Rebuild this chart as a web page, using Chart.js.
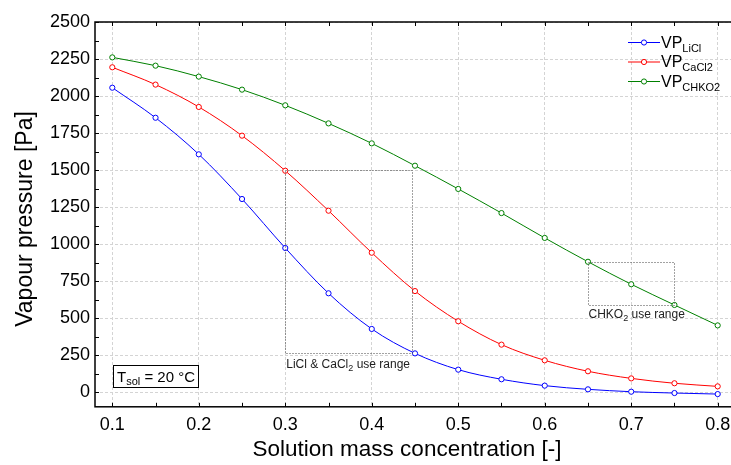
<!DOCTYPE html>
<html><head><meta charset="utf-8">
<script src="https://cdn.jsdelivr.net/npm/chart.js@4/dist/chart.umd.min.js"></script>
<style>
html,body{margin:0;padding:0;overflow:hidden;background:#fff;width:731px;height:465px}
#wrap{width:745px;height:465px}
</style></head>
<body><div id="wrap"><canvas id="c" width="745" height="465"></canvas></div>
<script>
const concentrations = [0.1,0.15,0.2,0.25,0.3,0.35,0.4,0.45,0.5,0.55,0.6,0.65,0.7,0.75,0.8];
const vpLiCl  = [2056,1853,1606,1304,973,667,426,261,151,86,43,18,2,-7,-14];
const vpCaCl2 = [2194,2077,1926,1732,1495,1225,941,682,478,320,214,140,92,59,38];
const vpCHKO2 = [2261,2205,2131,2043,1937,1815,1680,1529,1372,1209,1041,880,728,588,450];
const xTicks = [0.1,0.2,0.3,0.4,0.5,0.6,0.7,0.8];
const yTicks = [0,250,500,750,1000,1250,1500,1750,2000,2250,2500];
const seriesNames = ['LiCl','CaCl2','CHKO2'];
const seriesColors = ['#0000ff','#ff0000','#008000'];

const FONT = "'Liberation Sans', Arial, Helvetica, sans-serif";

function mkSet(data, color){
  return {
    data: concentrations.map((x,i)=>({x:x,y:data[i]})),
    borderColor: color, backgroundColor: '#ffffff',
    borderWidth: 1, pointRadius: 2.6, pointBorderWidth: 1,
    pointBackgroundColor: '#ffffff', pointBorderColor: color,
    cubicInterpolationMode: 'monotone', fill: false
  };
}

function subText(ctx, x, y, parts){
  let cx = x;
  for (const p of parts){
    ctx.font = p.size + 'px ' + FONT;
    ctx.fillText(p.t, cx, y + (p.dy||0));
    cx += ctx.measureText(p.t).width;
  }
  return cx;
}

const decor = {
  id: 'decor',
  afterDraw(chart){
    const ctx = chart.ctx, xs = chart.scales.x, ys = chart.scales.y, a = chart.chartArea;
    ctx.save();
    ctx.strokeStyle = '#000'; ctx.lineWidth = 1.5;
    ctx.strokeRect(a.left, a.top, a.right - a.left, a.bottom - a.top);
    ctx.lineWidth = 1;
    ctx.beginPath();
    for (let v = 0.1; v <= 0.8001; v += 0.05){
      const px = Math.round(xs.getPixelForValue(v)) + 0.5;
      ctx.moveTo(px, a.bottom); ctx.lineTo(px, a.bottom - 4);
      ctx.moveTo(px, a.top); ctx.lineTo(px, a.top + 4);
    }
    for (let v = 0; v <= 2500; v += 125){
      const py = Math.round(ys.getPixelForValue(v)) + 0.5;
      ctx.moveTo(a.left, py); ctx.lineTo(a.left + 4, py);
      ctx.moveTo(a.right, py); ctx.lineTo(a.right - 4, py);
    }
    ctx.stroke();

    ctx.strokeStyle = '#444'; ctx.lineWidth = 1; ctx.setLineDash([1,2]);
    function box(x0,x1,y0,y1){
      const l = Math.round(xs.getPixelForValue(x0))+0.5, r = Math.round(xs.getPixelForValue(x1))+0.5;
      const t = Math.round(ys.getPixelForValue(y1))+0.5, b = Math.round(ys.getPixelForValue(y0))+0.5;
      ctx.strokeRect(l, t, r-l, b-t);
    }
    box(0.3, 0.447, 261, 1500);
    box(0.65, 0.75, 585, 880);
    ctx.setLineDash([]);

    ctx.fillStyle = '#222'; ctx.textBaseline = 'alphabetic'; ctx.textAlign = 'left';
    subText(ctx, xs.getPixelForValue(0.3) + 1, 368, [
      {t:'LiCl & CaCl', size:12},{t:'2', size:9, dy:3},{t:' use range', size:12}]);
    subText(ctx, xs.getPixelForValue(0.65) + 0.5, 318, [
      {t:'CHKO', size:12},{t:'2', size:9, dy:3},{t:' use range', size:12}]);

    ctx.strokeStyle = '#000'; ctx.lineWidth = 1;
    ctx.strokeRect(113.5, 365.5, 85, 22);
    ctx.fillStyle = '#000';
    subText(ctx, 117, 382, [
      {t:'T', size:15},{t:'sol', size:11, dy:3},{t:' = 20 \u00B0C', size:15}]);

    const rows = [42.5, 62, 81.5];
    for (let i=0;i<3;i++){
      const y = rows[i];
      ctx.strokeStyle = seriesColors[i]; ctx.lineWidth = 1;
      ctx.beginPath(); ctx.moveTo(628, y); ctx.lineTo(660, y); ctx.stroke();
      ctx.beginPath(); ctx.arc(644, y, 2.6, 0, Math.PI*2);
      ctx.fillStyle = '#fff'; ctx.fill(); ctx.stroke();
      ctx.fillStyle = '#000';
      subText(ctx, 661, y + 5, [{t:'VP', size:16},{t:seriesNames[i], size:11, dy:4}]);
    }

    ctx.fillStyle = '#000';
    ctx.font = '22.5px ' + FONT; ctx.textAlign = 'center'; ctx.textBaseline = 'middle';
    ctx.fillText('Solution mass concentration [-]', 407, 450);
    ctx.save();
    ctx.translate(26, 219); ctx.rotate(-Math.PI/2);
    ctx.font = '23px ' + FONT;
    ctx.fillText('Vapour pressure [Pa]', 0, 0);
    ctx.restore();
    ctx.restore();
  }
};

new Chart(document.getElementById('c'), {
  type: 'line',
  data: { datasets: [
    Object.assign(mkSet(vpLiCl, seriesColors[0]), {label:'VP LiCl'}),
    Object.assign(mkSet(vpCaCl2, seriesColors[1]), {label:'VP CaCl2'}),
    Object.assign(mkSet(vpCHKO2, seriesColors[2]), {label:'VP CHKO2'})
  ]},
  options: {
    responsive: false, animation: false, devicePixelRatio: 1,
    layout: { padding: { top: 22, right: 10, left: 0, bottom: 0 } },
    plugins: { legend: {display:false}, tooltip: {enabled:false} },
    scales: {
      x: {
        type: 'linear', min: 0.08, max: 0.82,
        afterBuildTicks: s => { s.ticks = xTicks.map(v => ({value: v})); },
        afterFit: s => { s.height = 58.2; },
        grid: { color: '#d4d4d4', lineWidth: 1, drawTicks: false },
        border: { display: false, dash: [3,2] },
        ticks: { padding: 7, color: '#000', font: { family: FONT, size: 18 },
                 callback: v => String(Math.round(v*10)/10), maxRotation: 0, autoSkip: false }
      },
      y: {
        type: 'linear', min: -100, max: 2500,
        afterBuildTicks: s => { s.ticks = yTicks.map(v => ({value: v})); },
        afterFit: s => { s.width = 95; },
        grid: { color: '#d4d4d4', lineWidth: 1, drawTicks: false },
        border: { display: false, dash: [3,2] },
        ticks: { padding: 5, color: '#000', font: { family: FONT, size: 18 },
                 callback: v => String(Math.round(v)), autoSkip: false }
      }
    }
  },
  plugins: [decor]
});
</script>
</body></html>
